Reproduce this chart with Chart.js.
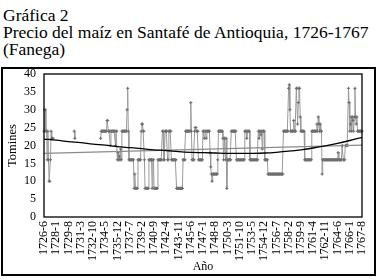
<!DOCTYPE html>
<html>
<head>
<meta charset="utf-8">
<script src="https://cdn.jsdelivr.net/npm/chart.js@4.4.1/dist/chart.umd.min.js"></script>
<style>
    body { margin: 0; background: #fff; width: 380px; height: 280px; overflow: hidden; position: relative; font-family: "Liberation Serif", "DejaVu Serif", serif; }
    #titulo { position: absolute; left: 3px; top: 7px; font-size: 17.5px; line-height: 17px; color: #000; white-space: nowrap; }
    #marco { position: absolute; left: 1px; top: 67px; width: 375px; height: 209px; border: 2px solid #000; box-sizing: border-box; }
    canvas { display: block; }
</style>
</head>
<body>
<div id="titulo">Gráfica 2<br>Precio del maíz en Santafé de Antioquia, 1726-1767<br>(Fanega)</div>
<div id="marco"><canvas id="grafica" width="371" height="205"></canvas></div>
<script>
// etiquetas visibles del eje (cada 19 meses)
const etiquetasEje = ['1726-6', '1728-1', '1729-8', '1731-3', '1732-10', '1734-5', '1735-12', '1737-7', '1739-2',
    '1740-9', '1742-4', '1743-11', '1745-6', '1747-1', '1748-8', '1750-3', '1751-10', '1753-5', '1754-12',
    '1756-7', '1758-2', '1759-9', '1761-4', '1762-11', '1764-6', '1766-1', '1767-8'];

// precio mensual en tomines, desde 1726-6 (null = sin dato)
const precios = [
    24, 30, 30, 24, 24, 16, 24, 16, 10, 10,
    16, 24, 22, 22, 22, null, null, null, null, null,
    null, null, null, null, null, null, null, null, null, null,
    null, null, null, null, null, null, null, null, null, null,
    null, null, null, null, null, null, null, 24, 22, null,
    null, null, null, null, null, null, null, null, null, null,
    null, null, null, null, null, null, null, null, null, null,
    null, null, null, null, null, null, null, null, null, null,
    null, null, null, null, null, null, null, null, 22, 24,
    24, 24, 24, 24, 24, 24, 24, 24, 27, 27,
    24, 24, 24, 20, 24, 24, 24, 24, 24, 24,
    24, 20, 24, 24, 16, 18, 16, 17, 16, 19,
    16, 24, 24, 24, 24, 24, 24, 24, 24, 30,
    36, 24, 16, 16, 16, 16, 16, 16, 16, 16,
    8, 12, 8, 8, 8, 8, 16, 16, 16, 16,
    16, 24, 26, 26, 24, 24, 16, 8, 8, 8,
    8, 8, 8, 16, 16, 16, 16, 16, 8, 16,
    16, 8, 8, 8, 8, 8, 8, 16, 16, 16,
    16, 16, 16, 16, 24, 24, 16, 16, 24, 24,
    24, 24, 16, 16, 24, 24, 24, 24, 16, 16,
    16, 16, 16, 16, 16, 16, 8, 8, 8, 8,
    8, 8, 8, 8, 8, 8, 16, 16, 16, 16,
    24, 24, 24, 24, 24, 24, 24, 24, 32, 24,
    16, 16, 16, 16, 24, 25, 25, 24, 24, 24,
    16, 16, 16, 16, 16, 16, 16, 24, 24, 22,
    24, 24, 22, 24, 24, 24, 24, 24, 18, 14,
    12, 10, 12, 12, 12, 12, 12, 12, 12, 12,
    16, 24, 24, 24, 24, 24, 24, 24, 22, 16,
    22, 22, 16, 22, 8, 16, 16, 16, 16, 16,
    16, 24, 24, 24, 24, 24, 24, 24, 24, 16,
    16, 16, 16, 16, 16, 16, 16, 16, 16, 16,
    16, 16, 24, 24, 24, 22, 24, 24, 24, 24,
    16, 16, 16, 16, 16, 16, 16, 16, 16, 16,
    16, 16, 16, 24, 22, 24, 24, 23, 24, 19,
    24, 24, 24, 16, 16, 16, 16, 16, 12, 12,
    12, 12, 12, 12, 12, 12, 12, 12, 12, 12,
    12, 12, 12, 12, 12, 12, 12, 12, 12, 12,
    12, 12, 24, 24, 24, 24, 24, 24, 24, 24,
    36, 37, 30, 24, 24, 24, 24, 24, 27, 24,
    24, 24, 36, 36, 26, 32, 36, 36, 28, 24,
    24, 24, 24, 24, 24, 16, 16, 16, 16, 16,
    16, 16, 16, 16, 16, 16, 24, 24, 24, 24,
    24, 24, 24, 24, 26, 24, 28, 26, 24, 26,
    24, 24, 12, 16, 16, 16, 16, 16, 16, 16,
    16, 16, 16, 16, 16, 16, 16, 16, 16, 16,
    16, 16, 16, 16, 16, 16, 16, 18, 16, 16,
    16, 16, 16, 20, 20, 16, 16, 16, 20, 20,
    20, 20, 20, 36, 32, 24, 26, 28, 24, 28,
    27, 24, 28, 36, 28, 26, 28, 24, 24, 24,
    24, 24, 24, 24, 24
];

// tendencias, en cada etiqueta del eje
const tendenciaPoli = [21.8, 21.5, 21.1, 20.8, 20.4, 20.1, 19.7, 19.4, 19.1, 18.8, 18.6, 18.3, 18.1, 18.0,
    17.9, 17.8, 17.8, 17.8, 17.9, 18.1, 18.4, 18.8, 19.3, 19.9, 20.6, 21.4, 22.3];
const tendenciaLineal = [17.8, 20.1];

const fuente = '"Liberation Serif", "DejaVu Serif", serif';

// un rotulo por mes a partir de junio de 1726
const meses = [];
for (let i = 0; i < precios.length; i++) {
    const total = 5 + i;
    meses.push(`${1726 + Math.floor(total / 12)}-${total % 12 + 1}`);
}

const bordeArea = {
    id: 'bordeArea',
    afterDraw(chart) {
        const { ctx, chartArea: a } = chart;
        ctx.save();
        ctx.strokeStyle = '#000';
        ctx.lineWidth = 1.3;
        ctx.strokeRect(a.left, a.top, a.width, a.height);
        ctx.restore();
    }
};

new Chart(document.getElementById('grafica'), {
    type: 'line',
    data: {
        labels: meses,
        datasets: [
            {
                label: 'Tendencia polinómica',
                data: etiquetasEje.map((e, i) => ({ x: e, y: tendenciaPoli[i] })),
                borderColor: '#000',
                borderWidth: 1.3,
                pointRadius: 0,
                cubicInterpolationMode: 'monotone',
                order: 0
            },
            {
                label: 'Tendencia lineal',
                data: [
                    { x: etiquetasEje[0], y: tendenciaLineal[0] },
                    { x: etiquetasEje[etiquetasEje.length - 1], y: tendenciaLineal[1] }
                ],
                borderColor: '#8a8a8a',
                borderWidth: 1.3,
                pointRadius: 0,
                order: 1
            },
            {
                label: 'Precio',
                data: precios,
                borderColor: '#9a9a9a',
                borderWidth: 1,
                pointStyle: 'cross',
                pointRadius: 1.6,
                pointBorderColor: '#6e6e6e',
                pointBorderWidth: 1,
                spanGaps: false,
                tension: 0,
                order: 2
            }
        ]
    },
    options: {
        responsive: false,
        animation: false,
        layout: { padding: { top: 0, right: 12, left: 0, bottom: 0 } },
        plugins: {
            legend: { display: false },
            tooltip: { enabled: false }
        },
        scales: {
            x: {
                type: 'category',
                grid: { display: false, drawTicks: false },
                border: { display: false },
                ticks: {
                    autoSkip: false,
                    maxRotation: 90,
                    minRotation: 90,
                    padding: 4,
                    color: '#000',
                    font: { family: fuente, size: 12 },
                    callback: (v, i) => (i % 19 === 0 ? meses[i] : null)
                },
                title: {
                    display: true,
                    text: 'Año',
                    color: '#000',
                    font: { family: fuente, size: 12 },
                    padding: { top: 0, bottom: 0 }
                },
                afterFit: s => {
                    s.height = 57;
                    s.paddingLeft = 0;
                    s.paddingRight = 0;
                }
            },
            y: {
                min: 0,
                max: 40,
                grid: { display: false, drawTicks: false },
                border: { display: false },
                ticks: {
                    stepSize: 5,
                    padding: 8,
                    color: '#000',
                    font: { family: fuente, size: 12 }
                },
                title: {
                    display: true,
                    text: 'Tomines',
                    color: '#000',
                    font: { family: fuente, size: 12.5 },
                    padding: { top: 2, bottom: 0 }
                },
                afterFit: s => {
                    s.width = 41;
                    s.paddingTop = 4;
                    s.paddingBottom = 0;
                }
            }
        }
    },
    plugins: [bordeArea]
});
</script>
</body>
</html>
